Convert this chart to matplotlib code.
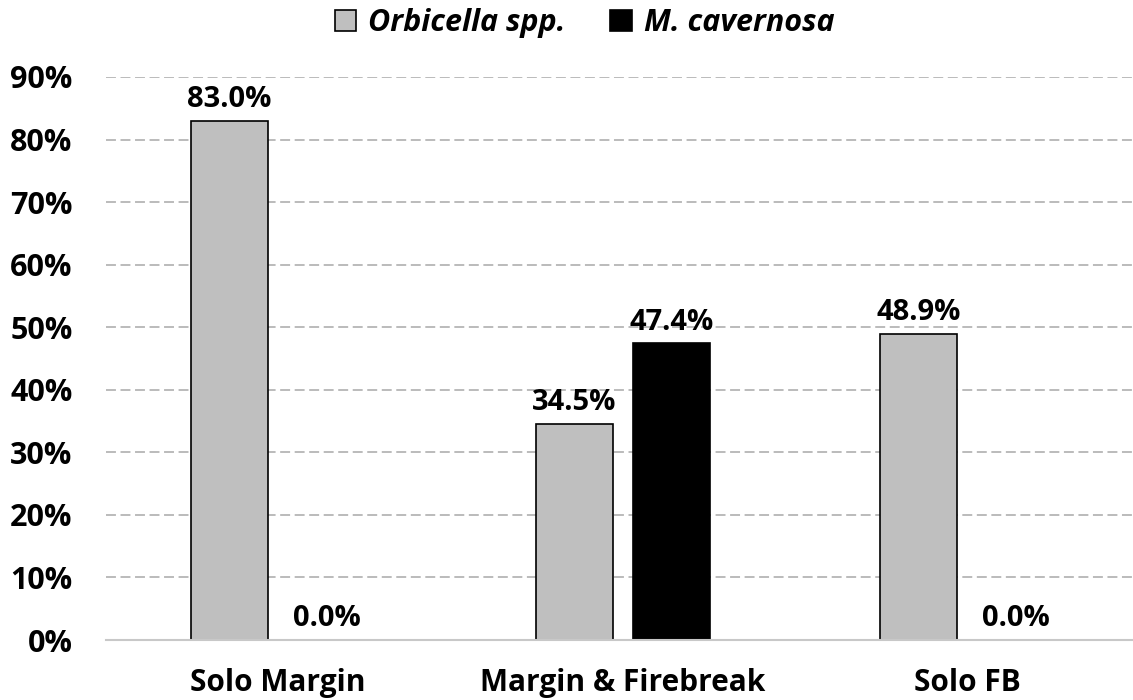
import numpy as np
import matplotlib.pyplot as plt

# DATA
categories = ['Solo Margin', 'Margin & Firebreak', 'Solo FB']
orbicella = [83.0, 34.5, 48.9]
cavernosa = [0.0, 47.4, 0.0]
series_names = ['Orbicella spp.', 'M. cavernosa']
yticks = [0, 10, 20, 30, 40, 50, 60, 70, 80, 90]

plt.rcParams['font.family'] = ['Open Sans', 'DejaVu Sans']

fig = plt.figure(figsize=(11.33, 7), dpi=100)
# axes runs a little past the right edge, like the original
ax = fig.add_axes([106 / 1133, 60 / 700, 1033.5 / 1133, 563 / 700])

x = np.arange(len(categories))
w = 0.2235
off = 0.1415
b1 = ax.bar(x - off, orbicella, w, color='#BFBFBF', edgecolor='black', linewidth=1.2,
            label=series_names[0], zorder=3)
b2 = ax.bar(x + off, cavernosa, w, color='black', edgecolor='black', linewidth=1.2,
            label=series_names[1], zorder=3)

for bars, vals in [(b1, orbicella), (b2, cavernosa)]:
    for r, v in zip(bars, vals):
        ax.annotate(f'{v:.1f}%', (r.get_x() + r.get_width() / 2, v),
                    xytext=(0, 5), textcoords='offset points', ha='center', va='bottom',
                    fontsize=21, fontweight='bold')

ax.set_xlim(-0.5, 2.5)
ax.set_ylim(0, 90)
ax.set_yticks(yticks)
ax.set_yticklabels([f'{t}%' for t in yticks], fontsize=22, fontweight='bold')
ax.set_xticks(x)
ax.set_xticklabels(categories, fontsize=21.5, fontweight='bold')
ax.tick_params(axis='both', length=0)
ax.tick_params(axis='x', pad=20)
ax.tick_params(axis='y', pad=24)

ax.yaxis.grid(True, linestyle=(0, (6.5, 3)), color='#A8A8A8', linewidth=1.1, zorder=0)
for s in ['top', 'right', 'left']:
    ax.spines[s].set_visible(False)
ax.spines['bottom'].set_color('#C8C8C8')
ax.spines['bottom'].set_linewidth(1.5)
ax.spines['bottom'].set_zorder(4)

leg = fig.legend(handles=[b1, b2], loc='center', bbox_to_anchor=(0.516, 1 - 23 / 700), ncol=2,
                 frameon=False, handlelength=0.69, handleheight=0.69, handletextpad=0.4,
                 columnspacing=1.47, borderpad=0, borderaxespad=0,
                 prop={'size': 22, 'weight': 'bold', 'style': 'italic'})

fig.savefig('out.png', dpi=100)
